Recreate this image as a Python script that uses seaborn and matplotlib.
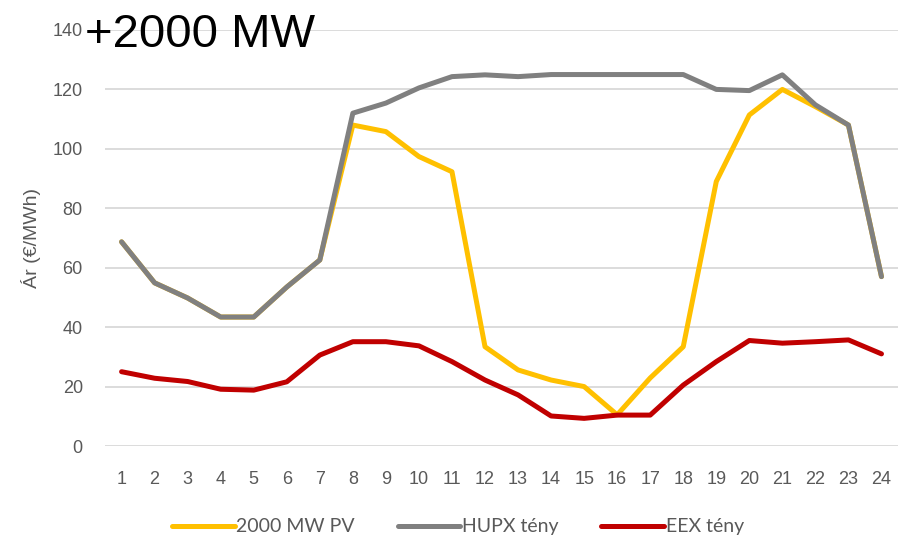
import matplotlib
matplotlib.use("Agg")
import matplotlib.pyplot as plt
import seaborn as sns
import pandas as pd

# Hourly prices (EUR/MWh)
hours = list(range(1, 25))
pv_2000 = [68.7, 54.9, 49.8, 43.4, 43.4, 53.5, 62.6, 108.0, 105.8, 97.4, 92.3, 33.4,
           25.6, 22.2, 20.0, 10.5, 22.9, 33.4, 89.0, 111.4, 120.0, 114.2, 108.0, 57.0]
hupx = [68.7, 54.9, 49.8, 43.4, 43.4, 53.5, 62.6, 112.0, 115.4, 120.5, 124.3, 124.9,
        124.3, 125.0, 125.0, 125.0, 125.0, 125.0, 120.0, 119.6, 124.9, 114.8, 108.0, 57.0]
eex = [25.0, 22.8, 21.7, 19.1, 18.8, 21.6, 30.6, 35.1, 35.1, 33.7, 28.4, 22.2,
       17.2, 10.1, 9.3, 10.4, 10.4, 20.5, 28.4, 35.5, 34.6, 35.1, 35.7, 31.0]

series_names = ["2000 MW PV", "HUPX tény", "EEX tény"]
colors = ["#FFC000", "#808080", "#C00000"]

df = pd.concat([
    pd.DataFrame({"Óra": hours, "Ár": vals, "Sor": name})
    for name, vals in zip(series_names, [pv_2000, hupx, eex])
])

sns.set_style("white")
plt.rcParams["font.family"] = ["Liberation Sans", "DejaVu Sans"]

fig = plt.figure(figsize=(8.98, 5.41), dpi=100)
ax = fig.add_axes([0.117, 0.1756, 0.883, 0.769])

sns.lineplot(data=df, x="Óra", y="Ár", hue="Sor", hue_order=series_names,
             palette=colors, linewidth=3.6, ax=ax, legend=False)

ax.set_xlim(0.5, 24.5)
ax.set_ylim(0, 140)
ax.set_xticks(hours)
ax.set_yticks(range(0, 141, 20))
ax.tick_params(axis="both", length=0, labelsize=13, labelcolor="#595959")
ax.tick_params(axis="y", pad=16)
ax.tick_params(axis="x", pad=18)
ax.grid(axis="y", color="#D9D9D9", linewidth=1.3)
ax.set_axisbelow(True)
for s in ax.spines.values():
    s.set_visible(False)

ax.set_xlabel("")
ax.set_ylabel("Ár (€/MWh)", fontsize=14, color="#595959", labelpad=8)

fig.text(0.095, 0.935, "+2000 MW", fontsize=34, color="black", va="center", ha="left")

handles = [plt.Line2D([], [], color=c, linewidth=3.6, solid_capstyle="round") for c in colors]
fig.legend(handles, series_names, loc="center", bbox_to_anchor=(0.51, 0.026), ncol=3,
           frameon=False, handlelength=3.2, handletextpad=0.1, columnspacing=2.2,
           prop={"family": "Lato", "size": 14}, labelcolor="#595959")

fig.savefig("out.png", dpi=100)
